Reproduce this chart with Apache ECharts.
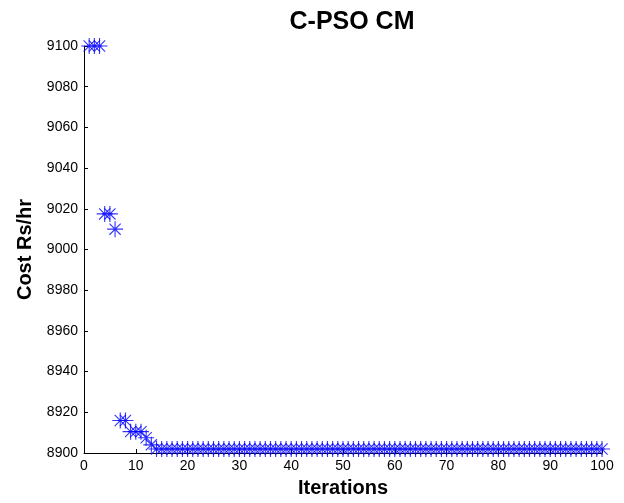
<!DOCTYPE html>
<html><head><meta charset="utf-8">
<script src="https://cdn.jsdelivr.net/npm/echarts@6/dist/echarts.min.js"></script>
<style>html,body{margin:0;padding:0;background:#fff}#c{width:624px;height:503px}</style>
</head><body><div id="c"></div>
<script>
const iterations = [];
for (let i = 1; i <= 100; i++) iterations.push(i);
const earlyCost = [9100, 9100, 9100, 9017.5, 9017.5, 9010, 8916, 8916, 8910.5, 8910.5, 8910.5, 8907.5, 8904];
const plateauCost = 8902;
const cost = iterations.map((it, i) => i < earlyCost.length ? earlyCost[i] : plateauCost);
const yTicks = [8900, 8920, 8940, 8960, 8980, 9000, 9020, 9040, 9060, 9080, 9100];

const star = 'path://M0,-6L0,6M-6,0L6,0M-4.2,-4.2L4.2,4.2M-4.2,4.2L4.2,-4.2';
const chart = echarts.init(document.getElementById('c'));
chart.setOption({
  animation: false,
  title: { text: 'C-PSO CM', left: 347, top: 5, textAlign: 'center',
    textStyle: { fontFamily: 'Liberation Sans', fontWeight: 'bold', fontSize: 25, color: '#000' } },
  grid: { left: 84, right: 22, top: 46, bottom: 48 },
  xAxis: { type: 'value', min: 0, max: 100, interval: 10,
    name: 'Iterations', nameLocation: 'middle', nameGap: 25,
    nameTextStyle: { fontFamily: 'Liberation Sans', fontWeight: 'bold', fontSize: 20, color: '#000' },
    axisLine: { lineStyle: { color: '#000', width: 1 } },
    axisTick: { inside: true, length: 4, lineStyle: { color: '#000' } },
    axisLabel: { fontFamily: 'Liberation Sans', fontSize: 14, color: '#000', margin: 6 },
    splitLine: { show: false } },
  yAxis: { type: 'value', min: yTicks[0], max: yTicks[yTicks.length - 1], interval: 20,
    name: 'Cost Rs/hr', nameLocation: 'middle', nameGap: 46,
    nameTextStyle: { fontFamily: 'Liberation Sans', fontWeight: 'bold', fontSize: 20, color: '#000' },
    axisLine: { show: true, lineStyle: { color: '#000', width: 1 } },
    axisTick: { show: true, inside: true, length: 4, lineStyle: { color: '#000' } },
    axisLabel: { fontFamily: 'Liberation Sans', fontSize: 14, color: '#000', margin: 6,
      formatter: v => String(v) },
    splitLine: { show: false } },
  series: [{ type: 'scatter', data: iterations.map((x, i) => [x, cost[i]]),
    symbol: star, symbolSize: 16, symbolKeepAspect: true,
    itemStyle: { color: 'rgba(0,0,0,0)', borderColor: '#0000ff', borderWidth: 1.1 } }]
});
</script></body></html>
